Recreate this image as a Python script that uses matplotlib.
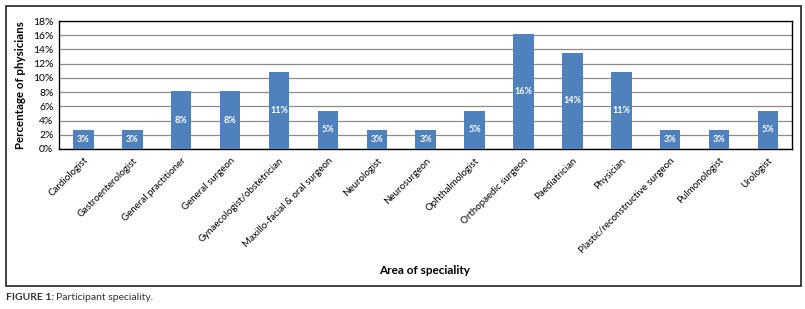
import matplotlib.pyplot as plt
from matplotlib.patches import Rectangle
from matplotlib.ticker import FuncFormatter, MultipleLocator

specialities = ['Cardiologist', 'Gastroenterologist', 'General practitioner', 'General surgeon',
                'Gynaecologist/obstetrician', 'Maxillo-facial & oral surgeon', 'Neurologist',
                'Neurosurgeon', 'Ophthalmologist', 'Orthopaedic surgeon', 'Paediatrician',
                'Physician', 'Plastic/reconstructive surgeon', 'Pulmonologist', 'Urologist']
percent = [2.7, 2.7, 8.1, 8.1, 10.8, 5.4, 2.7, 2.7, 5.4, 16.2, 13.5, 10.8, 2.7, 2.7, 5.4]
labels = ['3%', '3%', '8%', '8%', '11%', '5%', '3%', '3%', '5%', '16%', '14%', '11%', '3%', '3%', '5%']

plt.rcParams['font.family'] = ['Lato', 'DejaVu Sans']

fig = plt.figure(figsize=(8.05, 3.09), dpi=100)
ax = fig.add_axes([0.0733, 0.518, 0.911, 0.414])

x = range(len(specialities))
bars = ax.bar(x, percent, width=0.42, color='#4F81BD', zorder=3)
for b, lab in zip(bars, labels):
    ax.text(b.get_x() + b.get_width() / 2, b.get_height() / 2, lab, ha='center', va='center',
            color='white', fontsize=6.5, fontweight='bold', zorder=4)

ax.set_xlim(-0.5, len(specialities) - 0.5)
ax.set_ylim(0, 18)
ax.yaxis.set_major_locator(MultipleLocator(2))
ax.yaxis.set_major_formatter(FuncFormatter(lambda v, _: f'{int(v)}%'))
ax.grid(axis='y', color='#8c8c8c', linewidth=0.9, zorder=0)
ax.tick_params(axis='both', length=0, labelsize=7.5)
ax.tick_params(axis='y', pad=4)
ax.tick_params(axis='x', pad=5)
ax.set_xticks(list(x))
ax.set_xticklabels(specialities, rotation=45, ha='right', rotation_mode='anchor', fontsize=7)
for s in ax.spines.values():
    s.set_linewidth(1.0)
    s.set_color('black')

ax.set_ylabel('Percentage of physicians', fontsize=8.3, fontweight='bold', labelpad=5)
fig.text(0.528, 0.125, 'Area of speciality', ha='center', va='center', fontsize=8.5, fontweight='bold')

fig.patches.append(Rectangle((0.0075, 0.0744), 0.9875, 0.9066, transform=fig.transFigure,
                             fill=False, edgecolor='#222222', linewidth=1.2))
fig.text(0.0075, 0.036, 'FIGURE 1:', fontsize=7.5, fontweight='bold', va='center', color='#333333')
fig.text(0.0695, 0.036, 'Participant speciality.', fontsize=7.5, va='center', color='#333333')

plt.savefig('out.png', dpi=100)
plt.close()
